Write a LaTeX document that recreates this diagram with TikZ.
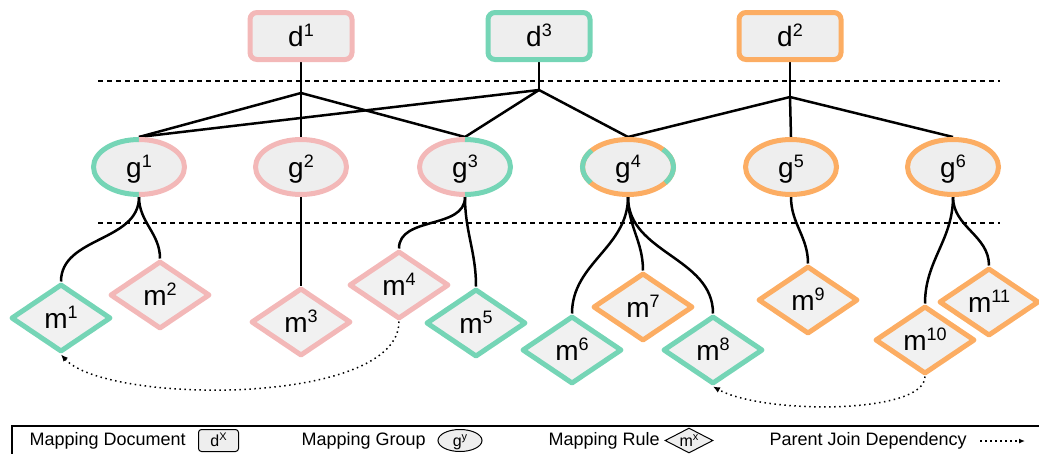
\documentclass[tikz,border=0pt]{standalone}
\usepackage{fontspec}
\setmainfont{Liberation Sans}
\usetikzlibrary{shapes.geometric,arrows.meta,backgrounds}

\definecolor{pinkc}{RGB}{243,184,184}
\definecolor{greenc}{RGB}{117,213,182}
\definecolor{orangec}{RGB}{252,173,99}
\definecolor{boxfill}{RGB}{238,238,238}
\definecolor{rulefill}{RGB}{241,241,241}

% raised index for the big labels and for the legend
\newcommand{\upidx}[1]{\raisebox{10.5pt}[0pt][0pt]{\fontsize{18}{18}\selectfont #1}}
\newcommand{\legidx}[1]{\raisebox{6pt}[0pt][0pt]{\fontsize{11}{11}\selectfont #1}}

\begin{document}
\begin{tikzpicture}[x=1pt,y=-1pt,
  lbl/.style={font=\fontsize{28}{28}\selectfont,text height=21pt,text depth=0pt},
  doc/.style={lbl,rectangle,rounded corners=7pt,line width=5pt,fill=boxfill,
    minimum width=102pt,minimum height=47pt,inner sep=0pt},
  grp/.style={lbl,ellipse,line width=5pt,fill=boxfill,
    minimum width=91pt,minimum height=55pt,inner sep=0pt},
  rulebox/.style={lbl,diamond,aspect=1.47,line width=5pt,fill=rulefill,line join=round,
    minimum width=100pt,minimum height=68pt,inner sep=0pt},
  half/.style={line width=5pt},
  link/.style={line width=2.5pt,black},
  sep/.style={line width=1.2pt,dash pattern=on 5pt off 4pt},
  dep/.style={line width=1.5pt,dash pattern=on 1.5pt off 3.5pt,
    -{Latex[length=7pt,width=6pt]}},
  legtext/.style={anchor=west,font=\fontsize{18}{18}\selectfont},
  legsmall/.style={draw,line width=1pt,fill=boxfill,inner sep=0pt,
    font=\fontsize{16}{16}\selectfont,text height=12pt,text depth=0pt},
  legdoc/.style={legsmall,rectangle,rounded corners=3pt,minimum width=40pt,minimum height=22pt},
  leggrp/.style={legsmall,ellipse,minimum width=44pt,minimum height=22pt},
  legrule/.style={legsmall,diamond,aspect=2,minimum width=48pt,minimum height=25pt},
]
\useasboundingbox (0,0) rectangle (1039,453);

% level separators
\draw[sep] (98,81) -- (1000,81);
\draw[sep] (98,223) -- (1000,223);

% mapping documents
\node[doc,draw=pinkc]   (d1) at (301,36) {d\upidx{1}};
\node[doc,draw=greenc]  (d3) at (539,36) {d\upidx{3}};
\node[doc,draw=orangec] (d2) at (790,36) {d\upidx{2}};

% mapping groups
\node[grp] (g1) at (139,167) {g\upidx{1}};
\node[grp,draw=pinkc]   (g2) at (301,167) {g\upidx{2}};
\node[grp] (g3) at (465,167) {g\upidx{3}};
\node[grp,draw=orangec] (g4) at (628,167) {g\upidx{4}};
\node[grp,draw=orangec] (g5) at (791,167) {g\upidx{5}};
\node[grp,draw=orangec] (g6) at (953,167) {g\upidx{6}};

% two-coloured group borders
\draw[half,greenc] ([shift={(90:45.5pt and 27.5pt)}]g1.center)
  arc[start angle=90,end angle=270,x radius=45.5pt,y radius=27.5pt];
\draw[half,pinkc]  ([shift={(-90:45.5pt and 27.5pt)}]g1.center)
  arc[start angle=-90,end angle=90,x radius=45.5pt,y radius=27.5pt];
\draw[half,pinkc]  ([shift={(90:45.5pt and 27.5pt)}]g3.center)
  arc[start angle=90,end angle=270,x radius=45.5pt,y radius=27.5pt];
\draw[half,greenc] ([shift={(-90:45.5pt and 27.5pt)}]g3.center)
  arc[start angle=-90,end angle=90,x radius=45.5pt,y radius=27.5pt];
\draw[half,greenc] ([shift={(143:45.5pt and 27.5pt)}]g4.center)
  arc[start angle=143,end angle=215,x radius=45.5pt,y radius=27.5pt];
\draw[half,greenc] ([shift={(-35:45.5pt and 27.5pt)}]g4.center)
  arc[start angle=-35,end angle=40,x radius=45.5pt,y radius=27.5pt];

% mapping rules
\node[rulebox,draw=greenc]  (m1)  at (61,318)  {m\upidx{1}};
\node[rulebox,draw=pinkc]   (m2)  at (160,295) {m\upidx{2}};
\node[rulebox,draw=pinkc]   (m3)  at (301,322) {m\upidx{3}};
\node[rulebox,draw=pinkc]   (m4)  at (399,285) {m\upidx{4}};
\node[rulebox,draw=greenc]  (m5)  at (476,323) {m\upidx{5}};
\node[rulebox,draw=greenc]  (m6)  at (572,350) {m\upidx{6}};
\node[rulebox,draw=orangec] (m7)  at (643,307) {m\upidx{7}};
\node[rulebox,draw=greenc]  (m8)  at (713,350) {m\upidx{8}};
\node[rulebox,draw=orangec] (m9)  at (808,300) {m\upidx{9}};
\node[rulebox,draw=orangec] (m10) at (925,340) {m\upidx{10}};
\node[rulebox,draw=orangec] (m11) at (989,302) {m\upidx{11}};

% branch points below the documents
\coordinate (b1) at (301,93);
\coordinate (b3) at (539,90);
\coordinate (b2) at (790,97);

\begin{pgfonlayer}{background}
  % documents to groups
  \draw[link] (d1.south) -- (b1);
  \draw[link] (b1) -- (g1.north);
  \draw[link] (b1) -- (g2.north);
  \draw[link] (b1) -- (g3.north);
  \draw[link] (d3.south) -- (b3);
  \draw[link] (b3) -- (g1.north);
  \draw[link] (b3) -- (g3.north);
  \draw[link] (b3) -- (g4.north);
  \draw[link] (d2.south) -- (b2);
  \draw[link] (b2) -- (g4.north);
  \draw[link] (b2) -- (g5.north);
  \draw[link] (b2) -- (g6.north);
  % groups to rules
  \draw[link] (g1.south) to[out=-90,in=90] (m1.north);
  \draw[link] (g1.south) to[out=-90,in=90] (m2.north);
  \draw[link] (g2.south) -- (m3.north);
  \draw[link] (g3.south) to[out=-90,in=90] (m4.north);
  \draw[link] (g3.south) to[out=-90,in=90] (m5.north);
  \draw[link] (g4.south) to[out=-90,in=90] (m6.north);
  \draw[link] (g4.south) to[out=-90,in=90] (m7.north);
  \draw[link] (g4.south) to[out=-90,in=90] (m8.north);
  \draw[link] (g5.south) to[out=-90,in=90] (m9.north);
  \draw[link] (g6.south) to[out=-90,in=90] (m10.north);
  \draw[link] (g6.south) to[out=-90,in=90] (m11.north);
\end{pgfonlayer}

% parent join dependencies
\draw[dep] (m4.south) .. controls +(0,85) and +(45,50) .. (m1.south);
\draw[dep] (m10.south) .. controls +(0,38) and +(50,28) .. (m8.south);

% legend
\draw[line width=1.5pt] (12,470) -- (12,426) -- (1050,426);
\node[legtext] (t1) at (26,441) {Mapping Document};
\node[legdoc]  (l1) at (218.5,440.5) {d\legidx{X}};
\node[legtext] (t2) at (298,441) {Mapping Group};
\node[leggrp]  (l2) at (460,440.5) {g\legidx{y}};
\node[legtext] (t3) at (545,441) {Mapping Rule};
\node[legrule] (l3) at (689,440.5) {m\legidx{x}};
\node[legtext] (t4) at (766,441) {Parent Join Dependency};
\coordinate (ls) at (980,441);
\coordinate (le) at (1025,441);
\draw[dep,line width=1.2pt,-{Latex[length=6pt,width=5pt]}] (ls) -- (le);
\end{tikzpicture}
\end{document}
